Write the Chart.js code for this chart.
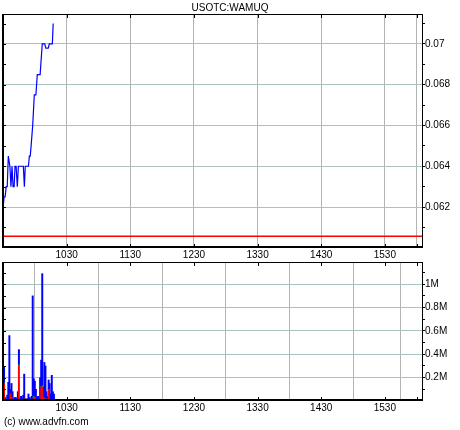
<!DOCTYPE html>
<html><head><meta charset="utf-8">
<script src="https://cdn.jsdelivr.net/npm/chart.js@4.4.0/dist/chart.umd.min.js"></script>
<style>
html,body{margin:0;padding:0;background:#fff;}
#wrap{position:relative;width:460px;height:430px;overflow:hidden;background:#fff;}
canvas{position:absolute;left:0;top:0;}
#foot{position:absolute;left:4px;top:416px;font:10px "Liberation Sans",Arial,sans-serif;color:#000;line-height:12px;}
</style></head><body>
<div id="wrap">
<canvas id="price" width="460" height="430"></canvas>
<canvas id="vol" width="460" height="430"></canvas>
<div id="foot">(c) www.advfn.com</div>
</div>
<script>
const chartTitle = 'USOTC:WAMUQ';
const xMin = '09:30:00', xMax = '16:05:00';
const prevClose = 0.06057;

const priceTimes = ['09:30:00','09:31:00','09:32:00','09:33:00','09:34:00','09:35:00','09:36:30','09:37:30','09:38:30','09:39:30','09:40:30','09:41:20','09:42:20','09:43:30','09:44:30','09:49:10','09:50:10','09:51:00','09:54:00','09:54:50','09:55:40','09:56:30','09:58:00','09:59:30','10:01:00','10:02:20','10:05:00','10:07:00','10:09:20','10:10:20','10:12:40','10:13:40','10:16:30','10:17:20'];
const priceValues = [0.0619,0.0625,0.0625,0.063,0.063,0.0645,0.064,0.063,0.064,0.063,0.063,0.064,0.064,0.063,0.064,0.064,0.063,0.064,0.064,0.0645,0.0645,0.065,0.066,0.0675,0.0675,0.0685,0.0685,0.07,0.07,0.0698,0.0698,0.07,0.07,0.071];

const volTimes = ['09:31','09:32','09:33','09:34','09:35','09:36','09:37','09:38','09:39','09:40','09:41','09:42','09:43','09:44','09:45','09:46','09:47','09:48','09:49','09:50','09:51','09:52','09:53','09:54','09:55','09:56','09:57','09:58','09:59','10:00','10:01','10:02','10:03','10:04','10:05','10:06','10:07','10:08','10:09','10:10','10:11','10:12','10:13','10:14','10:15','10:16','10:17','10:18'];
const volBuy   = [135000,30000,15000,40000,160000,560000,40000,120000,80000,20000,30000,30000,20000,80000,130000,20000,40000,20000,50000,230000,0,10000,20000,60000,30000,20000,40000,900000,150000,140000,100000,30000,40000,20000,200000,230000,960000,90000,330000,280000,80000,40000,80000,150000,60000,220000,80000,60000];
const volSell  = [150000,0,0,0,0,0,60000,30000,0,0,0,0,0,0,300000,0,0,0,0,0,20000,0,0,0,0,0,0,0,20000,30000,0,0,0,0,0,120000,120000,30000,0,20000,0,0,100000,0,0,0,0,0];
const volOther = [5000,0,0,10000,0,0,0,0,0,0,0,0,0,0,10000,0,0,0,0,0,0,0,0,0,0,0,0,0,20000,0,0,0,0,0,0,0,10000,0,0,0,0,0,0,0,0,0,0,0];

const timeTicks = ['10:30','11:30','12:30','13:30','14:30','15:30','16:00'];
const timeTickLabels = ['1030','1130','1230','1330','1430','1530',''];
const priceTicks = [0.061,0.062,0.063,0.064,0.065,0.066,0.067,0.068,0.069,0.070,0.071];
const priceTickLabels = ['','0.062','','0.064','','0.066','','0.068','','0.07',''];
const priceMin = 0.05999, priceMax = 0.07147;
const volTicks = [100000,200000,300000,400000,500000,600000,700000,800000,900000,1000000,1100000];
const volTickLabels = ['','0.2M','','0.4M','','0.6M','','0.8M','','1M',''];
const volMax = 1190000;

function toMin(t){const p=t.split(':').map(Number);return p[0]*60+p[1]+(p[2]||0)/60;}

const FONT = {family:'"Liberation Sans", Arial, sans-serif', size:10};
const H_GRID = '#a9c3c3', V_GRID = '#b3b3b3';

const framePlugin = {
  id:'frame',
  afterDraw(chart, args, opts){
    const {ctx, chartArea:a, scales} = chart;
    ctx.save();
    ctx.fillStyle = '#000';
    scales.y.ticks.forEach(t=>{const y=Math.round(scales.y.getPixelForValue(t.value)); ctx.fillRect(a.left, y, 3, 1);});
    scales.x.ticks.forEach(t=>{const x=Math.round(scales.x.getPixelForValue(t.value)); ctx.fillRect(x, a.bottom-4, 1, 3); ctx.fillRect(x, a.top+1, 1, 3);});
    ctx.fillRect(a.left-1, a.top, 2, a.bottom-a.top);
    ctx.fillRect(a.left-1, a.top, a.right-a.left+2, 1);
    ctx.fillRect(a.right, a.top, 1, a.bottom-a.top);
    ctx.fillRect(a.left-1, a.bottom-2, a.right-a.left+2, 2);
    if (opts && opts.title){
      ctx.font = '10px "Liberation Sans", Arial, sans-serif';
      ctx.textAlign='center'; ctx.textBaseline='middle';
      ctx.fillText(opts.title, chart.width/2, 8);
    }
    ctx.restore();
  }
};

function xScale(h, stacked){
  return {
    type:'linear', position:'bottom', min:toMin(xMin), max:toMin(xMax), offset:false, stacked,
    afterBuildTicks:s=>{s.ticks = timeTicks.map(t=>({value:toMin(t)}));},
    afterFit:s=>{s.height=h;},
    grid:{color:V_GRID, lineWidth:1, drawTicks:false},
    border:{display:false},
    ticks:{autoSkip:false, maxRotation:0, padding:1, color:'#000', font:FONT, callback:(v,i)=>timeTickLabels[i]}
  };
}
function yScale(min,max,ticks,labels,stacked){
  return {
    type:'linear', position:'right', min, max, stacked,
    afterBuildTicks:s=>{s.ticks = ticks.map(v=>({value:v}));},
    afterFit:s=>{s.width=38;},
    grid:{color:c=>labels[c.index]? H_GRID : 'rgba(0,0,0,0)', tickColor:'#000', tickLength:3, drawTicks:true},
    border:{display:false},
    ticks:{autoSkip:false, padding:0, color:'#000', font:FONT, callback:(v,i)=>labels[i]}
  };
}

new Chart(document.getElementById('price'), {
  type:'line',
  data:{datasets:[
    {data:priceTimes.map((t,i)=>({x:toMin(t),y:priceValues[i]})), borderColor:'#0000ff', borderWidth:1.2, pointRadius:0, tension:0},
    {data:[{x:toMin(xMin),y:prevClose},{x:toMin(xMax),y:prevClose}], borderColor:'#ff0000', borderWidth:1.5, pointRadius:0}
  ]},
  options:{
    responsive:false, animation:false, devicePixelRatio:1,
    layout:{padding:{left:3, top:14, right:0, bottom:170}},
    plugins:{legend:{display:false}, tooltip:{enabled:false}, frame:{title:chartTitle}},
    scales:{x:xScale(12,false), y:yScale(priceMin, priceMax, priceTicks, priceTickLabels,false)}
  },
  plugins:[framePlugin]
});

new Chart(document.getElementById('vol'), {
  type:'bar',
  data:{datasets:[
    {data:volTimes.map((t,i)=>({x:toMin(t),y:volSell[i]})), backgroundColor:'#ff0000', barThickness:1.3},
    {data:volTimes.map((t,i)=>({x:toMin(t),y:volOther[i]})), backgroundColor:'#00a000', barThickness:1.3},
    {data:volTimes.map((t,i)=>({x:toMin(t),y:volBuy[i]})), backgroundColor:'#0000ff', barThickness:1.3}
  ]},
  options:{
    responsive:false, animation:false, devicePixelRatio:1,
    layout:{padding:{left:3, top:262, right:0, bottom:15}},
    plugins:{legend:{display:false}, tooltip:{enabled:false}, frame:{}},
    scales:{x:xScale(14,true), y:yScale(0, volMax, volTicks, volTickLabels,true)}
  },
  plugins:[framePlugin]
});
</script>
</body></html>
